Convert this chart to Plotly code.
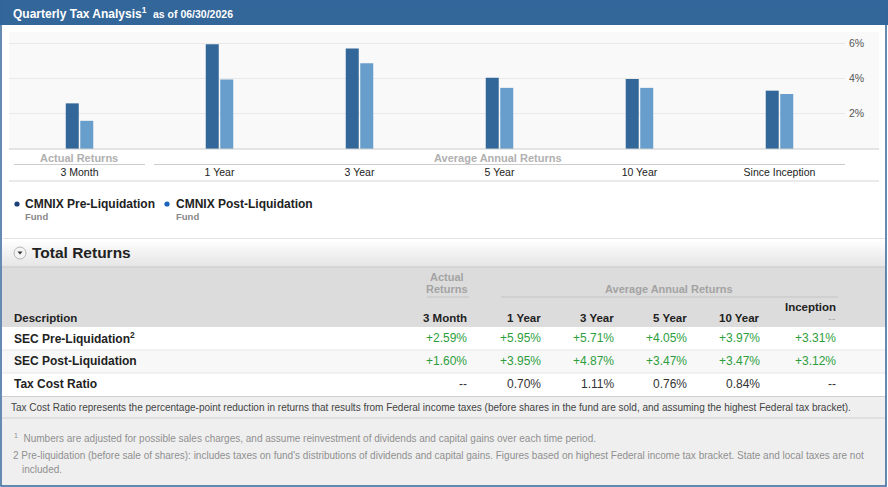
import plotly.graph_objects as go

W, H = 888, 487

# ---------------- data ----------------
periods = ["3 Month", "1 Year", "3 Year", "5 Year", "10 Year", "Since Inception"]
pre_liq = [2.59, 5.95, 5.71, 4.05, 3.97, 3.31]
post_liq = [1.60, 3.95, 4.87, 3.47, 3.47, 3.12]
tax_cost = [None, 0.70, 1.11, 0.76, 0.84, None]
y_tickvals = [2, 4, 6]
y_ticktext = ["2%", "4%", "6%"]
table_headers = ["3 Month", "1 Year", "3 Year", "5 Year", "10 Year", "Inception"]
series_names = ["CMNIX Pre-Liquidation", "CMNIX Post-Liquidation"]
row_labels = ["SEC Pre-Liquidation<sup>2</sup>", "SEC Post-Liquidation", "Tax Cost Ratio"]

# ---------------- styles ----------------
FONT = "Liberation Sans, Arial, sans-serif"
BLUE_HDR = "#336699"
PRE_COL = "#336699"
POST_COL = "#679ecb"
GREEN = "#2e9e3c"


def X(px):
    return px / W


def Y(py):
    return 1 - py / H


fig = go.Figure()
fig.add_trace(go.Bar(x=periods, y=pre_liq, name=series_names[0], marker_color=PRE_COL,
                     marker_line_width=0, hoverinfo="skip"))
fig.add_trace(go.Bar(x=periods, y=post_liq, name=series_names[1], marker_color=POST_COL,
                     marker_line_width=0, hoverinfo="skip"))

shapes = []
ann = []


def rect(x0, y0, x1, y1, fill, line=None, lw=0, layer="below"):
    shapes.append(dict(type="rect", xref="paper", yref="paper", x0=X(x0), x1=X(x1),
                       y0=Y(y0), y1=Y(y1), fillcolor=fill,
                       line=dict(color=line or fill, width=lw), layer=layer))


def hline(x0, x1, y, color, w=1, layer="below"):
    shapes.append(dict(type="line", xref="paper", yref="paper", x0=X(x0), x1=X(x1),
                       y0=Y(y), y1=Y(y), line=dict(color=color, width=w), layer=layer))


def text(x, y, s, size=12, color="#222", anchor="left", bold=False):
    if bold:
        s = "<b>" + s + "</b>"
    ann.append(dict(xref="paper", yref="paper", x=X(x), y=Y(y), text=s, showarrow=False,
                    xanchor=anchor, yanchor="middle", font=dict(size=size, color=color, family=FONT)))


# header bar
rect(0, 0, 888, 25, BLUE_HDR)
text(11, 13, "Quarterly Tax Analysis<sup>1</sup>", size=12, color="white", bold=True)
text(151, 14, "as of 06/30/2026", size=10.5, color="white", bold=True)

# chart background
rect(9, 32, 879, 149, "#f9f9f9")
hline(9, 879, 149, "#cccccc", 1.2, layer="above")

# group labels under chart
text(79, 158, "Actual Returns", size=11, color="#b0b0b0", bold=True, anchor="center")
hline(14, 145, 164.5, "#cccccc", 1.2)
text(498, 158, "Average Annual Returns", size=11, color="#b0b0b0", bold=True, anchor="center")
hline(154, 845, 164.5, "#cccccc", 1.2)
hline(9, 879, 181, "#d5d5d5", 1.2)

# legend
legend_dots = ["#1b3f78", "#1a64b9"]
for (dx, tx), name, dc in zip([(17, 25), (167, 176)], series_names, legend_dots):
    shapes.append(dict(type="circle", xref="paper", yref="paper",
                       x0=X(dx - 2.6), x1=X(dx + 2.6), y0=Y(204 - 2.6), y1=Y(204 + 2.6),
                       fillcolor=dc, line=dict(color=dc, width=0)))
    text(tx - 2, 204, name, size=12, color="#222", bold=True)
    text(tx - 2, 216, "Fund", size=9.5, color="#888", bold=True)

# section header "Total Returns" with gradient
hline(3, 886, 238.5, "#e2e2e2", 1)
n = 12
for i in range(n):
    y0 = 239 + i * (28 / n)
    y1 = 239 + (i + 1) * (28 / n)
    c = int(255 - (255 - 230) * (i / (n - 1)))
    rect(2, y0, 886, y1 + 0.3, f"rgb({c},{c},{c})")
shapes.append(dict(type="circle", xref="paper", yref="paper",
                   x0=X(14), x1=X(26), y0=Y(247), y1=Y(259),
                   fillcolor="#f4f4f4", line=dict(color="#b5b5b5", width=1)))
shapes.append(dict(type="path", xref="paper", yref="paper",
                   path=f"M {X(17.5)} {Y(251.5)} L {X(22.5)} {Y(251.5)} L {X(20)} {Y(254.5)} Z",
                   fillcolor="#333", line=dict(color="#333", width=0)))
text(30, 252, "Total Returns", size=15.5, color="#222", bold=True)

# table header
rect(2, 267, 886, 327, "#dcdcdc")
hline(2, 886, 267, "#c8c8c8", 1.2)
text(447, 277, "Actual", size=11, color="#a3a3a3", bold=True, anchor="center")
text(447, 289, "Returns", size=11, color="#a3a3a3", bold=True, anchor="center")
hline(427, 469, 297, "#c4c4c4", 1.2)
text(669, 289, "Average Annual Returns", size=11, color="#a3a3a3", bold=True, anchor="center")
hline(501, 838, 297, "#c4c4c4", 1.2)
text(12, 318, "Description", size=11.5, color="#222", bold=True)
col_x = [468, 542, 615, 688, 761, 837]
for cx, h in zip(col_x, table_headers):
    if h == "Inception":
        text(cx + 1, 307, h, size=11.5, color="#222", bold=True, anchor="right")
        text(cx + 1, 318, "--", size=11, color="#aaa", anchor="right")
    else:
        text(cx + 1, 318, h, size=11.5, color="#222", bold=True, anchor="right")

# table rows
row_y = [338, 361, 384]
rect(2, 327, 886, 350, "#ffffff")
rect(2, 350, 886, 373, "#f8f8f8")
rect(2, 373, 886, 396, "#ffffff")
hline(2, 886, 350, "#e6e6e6", 1)
hline(2, 886, 373, "#e6e6e6", 1)
for ry, lab in zip(row_y, row_labels):
    text(12, ry, lab, size=12, color="#222", bold=True)
for cx, v in zip(col_x, pre_liq):
    text(cx + 1, row_y[0], f"+{v:.2f}%", size=12, color=GREEN, anchor="right")
for cx, v in zip(col_x, post_liq):
    text(cx + 1, row_y[1], f"+{v:.2f}%", size=12, color=GREEN, anchor="right")
for cx, v in zip(col_x, tax_cost):
    s = "--" if v is None else f"{v:.2f}%"
    text(cx + 1, row_y[2], s, size=12, color="#333", anchor="right")

# footnotes
rect(2, 396, 886, 486, "#efefef")
hline(2, 886, 396.5, "#d0d0d0", 1)
hline(2, 886, 418, "#d0d0d0", 1)
text(9, 407, "Tax Cost Ratio represents the percentage-point reduction in returns that results from Federal "
     "income taxes (before shares in the fund are sold, and assuming the highest Federal tax bracket).",
     size=10, color="#444")
text(12, 438, "<sup>1</sup>  Numbers are adjusted for possible sales charges, and assume reinvestment of "
     "dividends and capital gains over each time period.", size=10, color="#909090")
text(11, 455, "2 Pre-liquidation (before sale of shares): includes taxes on fund's distributions of dividends "
     "and capital gains. Figures based on highest Federal income tax bracket. State and local taxes are not",
     size=10, color="#909090")
text(20, 469, "included.", size=10, color="#909090")

# outer frame
shapes.append(dict(type="rect", xref="paper", yref="paper", x0=X(1), x1=X(886), y0=Y(486), y1=Y(0),
                   fillcolor="rgba(0,0,0,0)", line=dict(color=BLUE_HDR, width=1.5), layer="above"))

fig.update_layout(
    width=W, height=H,
    margin=dict(l=0, r=0, t=0, b=0),
    paper_bgcolor="white",
    plot_bgcolor="rgba(0,0,0,0)",
    showlegend=False,
    barmode="group",
    bargap=0.793,
    bargroupgap=0.103,
    font=dict(family=FONT),
    shapes=shapes,
    annotations=ann,
    xaxis=dict(domain=[X(9), X(845)], range=[-0.5036, 5.468], type="category",
               showgrid=False, showline=False, zeroline=False, ticks="",
               tickfont=dict(size=10.5, color="#222", family=FONT), ticklabelstandoff=15,
               fixedrange=True),
    yaxis=dict(domain=[Y(149), Y(32)], range=[0, 6.64], side="right",
               tickvals=y_tickvals, ticktext=y_ticktext, showgrid=True, gridcolor="#e9e9e9",
               gridwidth=1, zeroline=False, showline=False, ticks="",
               tickfont=dict(size=10.5, color="#555", family=FONT), ticklabelstandoff=3,
               fixedrange=True),
)

fig.write_html("out.html")
